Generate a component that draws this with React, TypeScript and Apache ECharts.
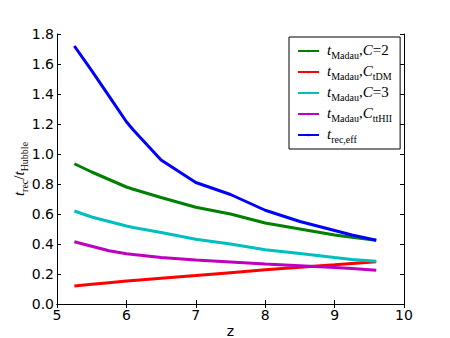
import React, { useEffect, useRef } from "react";
import * as echarts from "echarts";

const zValues = [5.25, 5.5, 5.75, 6.0, 6.1, 6.5, 7.0, 7.5, 8.0, 8.5, 9.0, 9.25, 9.6];
const madauC2 = [0.935, 0.88, 0.83, 0.78, 0.765, 0.71, 0.645, 0.6, 0.54, 0.5, 0.46, 0.445, 0.425];
const madauTDM = [0.12, 0.131, 0.142, 0.153, 0.157, 0.172, 0.19, 0.209, 0.228, 0.245, 0.261, 0.27, 0.282];
const madauC3 = [0.62, 0.58, 0.55, 0.52, 0.51, 0.477, 0.432, 0.4, 0.362, 0.337, 0.31, 0.297, 0.285];
const madauTTHII = [0.415, 0.385, 0.355, 0.335, 0.33, 0.31, 0.294, 0.28, 0.266, 0.255, 0.243, 0.236, 0.225];
const recEff = [1.72, 1.556, 1.386, 1.215, 1.16, 0.96, 0.81, 0.73, 0.625, 0.55, 0.49, 0.46, 0.425];

const seriesNames = ["madauC2", "madauTDM", "madauC3", "madauTTHII", "recEff"];
const seriesColors = ["#008000", "#ff0000", "#00bfbf", "#bf00bf", "#0000ff"];
const seriesValues = [madauC2, madauTDM, madauC3, madauTTHII, recEff];
const legendLabels: Record<string, string> = {
  madauC2: "{t|t}{s|Madau}{r|,}{t|C}{r|=2}",
  madauTDM: "{t|t}{s|Madau}{r|,}{t|C}{s|tDM}",
  madauC3: "{t|t}{s|Madau}{r|,}{t|C}{r|=3}",
  madauTTHII: "{t|t}{s|Madau}{r|,}{t|C}{s|ttHII}",
  recEff: "{t|t}{s|rec,eff}",
};

const xTicks = { min: 5, max: 10, interval: 1 };
const yTicks = { min: 0, max: 1.8, interval: 0.2 };

const serif = "Liberation Serif";
const sans = "DejaVu Sans";

const richAxis = {
  t: { fontFamily: serif, fontStyle: "italic", fontSize: 15, color: "#000", verticalAlign: "bottom", padding: [0, 0, 3, 0] },
  s: { fontFamily: serif, fontSize: 10, color: "#000", verticalAlign: "bottom" },
  r: { fontFamily: serif, fontSize: 15, color: "#000", verticalAlign: "bottom", padding: [0, 0, 3, 0] },
};
const richLegend = {
  t: { fontFamily: serif, fontStyle: "italic", fontSize: 15, color: "#000", verticalAlign: "bottom", padding: [0, 0, 3, 0] },
  s: { fontFamily: serif, fontSize: 10, color: "#000", verticalAlign: "bottom" },
  r: { fontFamily: serif, fontSize: 15, color: "#000", verticalAlign: "bottom", padding: [0, 0, 3, 0] },
};

export default function App() {
  const ref = useRef<HTMLDivElement>(null);
  useEffect(() => {
    if (!ref.current) return;
    const chart = echarts.init(ref.current, undefined, { renderer: "svg" });
    const tickStyle = { show: true, inside: true, length: 4, lineStyle: { color: "#000", width: 1 } };
    const axisLineStyle = { show: true, lineStyle: { color: "#000", width: 1 } };
    chart.setOption({
      animation: false,
      backgroundColor: "#fff",
      grid: { left: 57, right: 46, top: 34, bottom: 34, containLabel: false, outerBoundsMode: "none" },
      legend: {
        data: seriesNames,
        orient: "vertical",
        left: 289,
        top: 37,
        padding: [5, 8, 5, 8],
        itemGap: 3,
        itemWidth: 21,
        itemHeight: 3,
        borderColor: "#000",
        borderWidth: 1,
        backgroundColor: "#fff",
        formatter: (name: string) => legendLabels[name],
        textStyle: { rich: richLegend, padding: [0, 0, 0, 3] },
      },
      xAxis: [
        {
          type: "value",
          min: xTicks.min,
          max: xTicks.max,
          interval: xTicks.interval,
          position: "bottom",
          name: "z",
          nameLocation: "middle",
          nameGap: 20,
          nameMoveOverlap: false,
          nameTextStyle: { fontFamily: sans, fontSize: 14, color: "#000" },
          axisLine: axisLineStyle,
          axisTick: tickStyle,
          axisLabel: { fontFamily: sans, fontSize: 14, color: "#000", margin: 4 },
          splitLine: { show: false },
        },
        {
          type: "value",
          min: xTicks.min,
          max: xTicks.max,
          interval: xTicks.interval,
          position: "top",
          axisLine: axisLineStyle,
          axisTick: tickStyle,
          axisLabel: { show: false },
          splitLine: { show: false },
        },
      ],
      yAxis: [
        {
          type: "value",
          min: yTicks.min,
          max: yTicks.max,
          interval: yTicks.interval,
          position: "left",
          name: "{t|t}{s|rec}{r|/}{t|t}{s|Hubble}",
          nameLocation: "middle",
          nameGap: 28,
          nameMoveOverlap: false,
          nameRotate: 90,
          nameTextStyle: { rich: richAxis },
          axisLine: axisLineStyle,
          axisTick: tickStyle,
          axisLabel: {
            fontFamily: sans,
            fontSize: 14,
            color: "#000",
            margin: 3,
            formatter: (v: number) => v.toFixed(1),
          },
          splitLine: { show: false },
        },
        {
          type: "value",
          min: yTicks.min,
          max: yTicks.max,
          interval: yTicks.interval,
          position: "right",
          axisLine: axisLineStyle,
          axisTick: tickStyle,
          axisLabel: { show: false },
          splitLine: { show: false },
        },
      ],
      series: seriesNames.map((name, i) => ({
        name,
        type: "line",
        xAxisIndex: 0,
        yAxisIndex: 0,
        symbol: "none",
        showSymbol: false,
        color: seriesColors[i],
        lineStyle: { color: seriesColors[i], width: 3 },
        data: zValues.map((z, j) => [z, seriesValues[i][j]]),
      })),
    });
    return () => chart.dispose();
  }, []);
  return (
    <div
      ref={ref}
      style={{ position: "fixed", left: 0, top: 0, width: 450, height: 338 }}
    />
  );
}
